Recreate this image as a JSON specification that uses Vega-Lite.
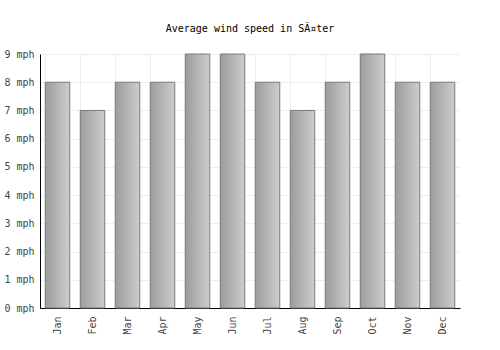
{
  "$schema": "https://vega.github.io/schema/vega-lite/v6.json",
  "autosize": "none",
  "width": 420,
  "height": 254,
  "padding": {"left": 40, "top": 54, "right": 40, "bottom": 42},
  "background": "white",
  "title": {"text": "Average wind speed in SÃ¤ter", "font": "DejaVu Sans Mono", "fontSize": 10, "fontWeight": "normal", "color": "#000", "offset": 15, "anchor": "middle"},
  "data": {"values": [
    {"month": "Jan", "v": 8}, {"month": "Feb", "v": 7}, {"month": "Mar", "v": 8},
    {"month": "Apr", "v": 8}, {"month": "May", "v": 9}, {"month": "Jun", "v": 9},
    {"month": "Jul", "v": 8}, {"month": "Aug", "v": 7}, {"month": "Sep", "v": 8},
    {"month": "Oct", "v": 9}, {"month": "Nov", "v": 8}, {"month": "Dec", "v": 8}
  ]},
  "mark": {"type": "bar", "stroke": "#7a7a7a", "strokeWidth": 1,
    "fill": {"gradient": "linear", "x1": 0, "x2": 1, "y1": 0, "y2": 0,
      "stops": [{"offset": 0, "color": "#9c9c9c"}, {"offset": 1, "color": "#cdcdcd"}]}},
  "encoding": {
    "x": {"field": "month", "type": "nominal", "sort": null,
      "scale": {"paddingInner": 0.3, "paddingOuter": 0.15},
      "axis": {"title": null, "bandPosition": 0, "labelAngle": 270, "labelAlign": "right", "labelBaseline": "middle",
        "labelFont": "DejaVu Sans Mono", "labelFontSize": 10, "labelColor": "#444", "labelPadding": 8,
        "ticks": false, "grid": true, "gridColor": "#eeeeee", "domainColor": "#000", "domainWidth": 1}},
    "y": {"field": "v", "type": "quantitative",
      "scale": {"domain": [0, 9], "nice": false},
      "axis": {"title": null, "values": [0,1,2,3,4,5,6,7,8,9], "labelExpr": "datum.label + ' mph'",
        "labelFont": "DejaVu Sans Mono", "labelFontSize": 10, "labelColor": "#444", "labelPadding": 6,
        "ticks": false, "grid": true, "gridColor": "#eeeeee", "domainColor": "#000", "domainWidth": 1}}
  },
  "config": {"view": {"stroke": null}}
}
